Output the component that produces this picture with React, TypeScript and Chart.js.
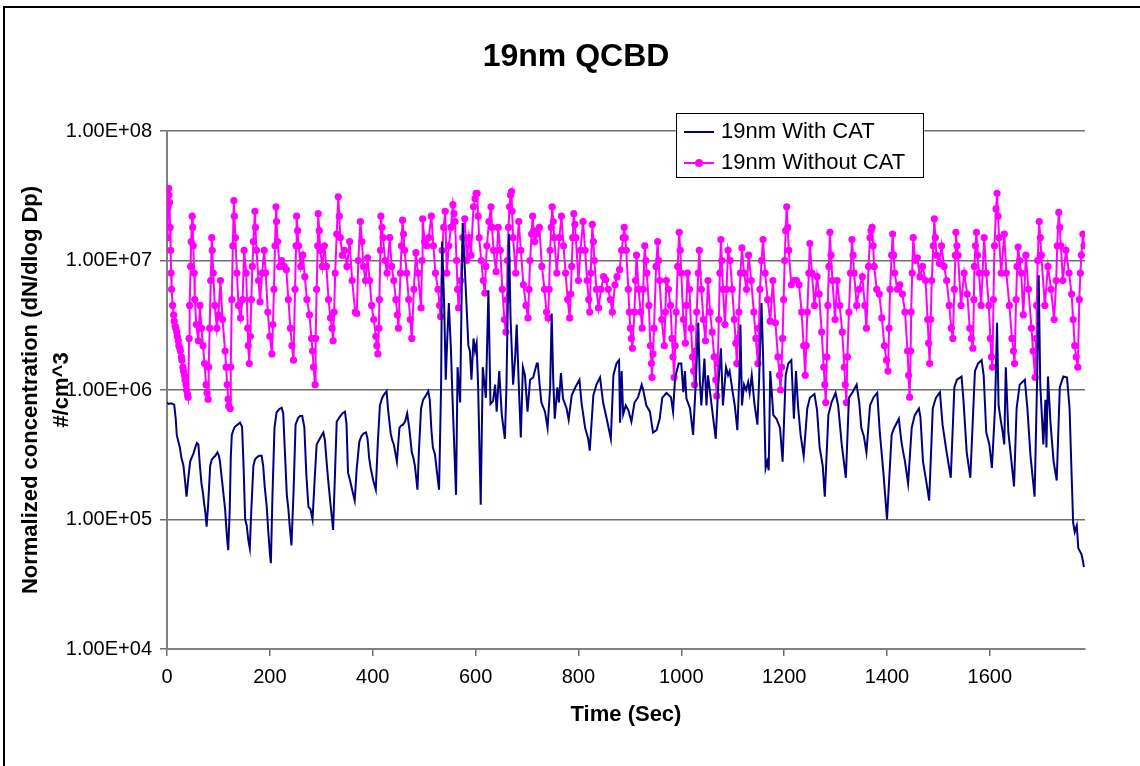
import React, { useEffect, useRef } from "react";
import Chart from "chart.js/auto";

const FONT = '"Liberation Sans", Arial, sans-serif';

const chartTitle = "19nm QCBD";
const xAxisTitle = "Time (Sec)";
const yAxisTitle = ["Normalized concentration (dN/dlog Dp)", "#/cm^3"];
const seriesNames = ["19nm With CAT", "19nm Without CAT"];

const xMin = 0;
const xMax = 1785;
const xTickValues = [0, 200, 400, 600, 800, 1000, 1200, 1400, 1600];
const xTickLabels = ["0", "200", "400", "600", "800", "1000", "1200", "1400", "1600"];

const yTickValues = [1e4, 1e5, 1e6, 1e7, 1e8];
const yTickLabels = ["1.00E+04", "1.00E+05", "1.00E+06", "1.00E+07", "1.00E+08"];

// [time (s), concentration]
const withCatPoints: Array<[number, number]> = [
  [0, 8.0e5], [3, 7.8e5], [8, 7.9e5], [14, 7.7e5], [17, 6e5], [19, 4.5e5], [22, 4.0e5], [25, 3.6e5], [28, 3.0e5], [32, 2.6e5],
  [35, 2.0e5], [38, 1.5e5], [41, 2.0e5], [45, 2.8e5], [48, 3.0e5], [51, 3.2e5], [55, 3.6e5], [58, 3.9e5], [61, 3.8e5], [64, 2.6e5],
  [67, 1.9e5], [70, 1.6e5], [72, 1.35e5], [75, 1.1e5], [77, 8.8e4], [80, 1.3e5], [84, 2.6e5], [87, 2.9e5], [90, 3.0e5], [94, 3.1e5],
  [98, 3.3e5], [101, 3.1e5], [103, 2.8e5], [107, 2.0e5], [110, 1.55e5], [113, 1.2e5], [115, 9e4], [117, 7e4], [119, 5.8e4], [122, 1.2e5],
  [124, 3.0e5], [126, 4.5e5], [129, 4.9e5], [132, 5.2e5], [137, 5.4e5], [142, 5.6e5], [146, 5.2e5], [149, 2.5e5], [152, 1.0e5], [155, 9e4],
  [158, 7e4], [161, 6.0e4], [164, 1.2e5], [168, 2.6e5], [171, 2.9e5], [174, 3.0e5], [179, 3.1e5], [184, 3.1e5], [187, 2.6e5], [190, 1.8e5],
  [194, 1.25e5], [197, 8e4], [200, 5.5e4], [202, 4.6e4], [205, 1.5e5], [209, 5.1e5], [213, 6.7e5], [218, 7.1e5], [223, 7.3e5], [226, 6.6e5],
  [229, 3.5e5], [233, 1.55e5], [236, 1.2e5], [239, 8.5e4], [242, 6.3e4], [246, 1.6e5], [250, 5.4e5], [255, 6.1e5], [259, 6.3e5], [263, 6.3e5],
  [267, 5.2e5], [271, 2.2e5], [275, 1.25e5], [279, 1.2e5], [283, 1.0e5], [287, 2.0e5], [291, 3.8e5], [297, 4.2e5], [301, 4.5e5], [304, 4.7e5],
  [307, 4.1e5], [311, 2.6e5], [314, 1.9e5], [318, 1.3e5], [321, 1.0e5], [323, 8.3e4], [327, 2.5e5], [330, 5.7e5], [336, 6.2e5], [341, 6.6e5],
  [346, 6.8e5], [349, 5.5e5], [352, 2.3e5], [356, 2.0e5], [360, 1.7e5], [365, 1.4e5], [369, 2.5e5], [374, 4.0e5], [378, 4.4e5], [382, 4.6e5],
  [387, 4.7e5], [390, 4.2e5], [393, 3.0e5], [396, 2.5e5], [401, 2.0e5], [406, 1.7e5], [410, 4.0e5], [414, 7.6e5], [418, 8.6e5], [421, 9.1e5],
  [427, 9.8e5], [430, 7.0e5], [435, 4.6e5], [438, 4.1e5], [441, 3.8e5], [447, 2.8e5], [452, 5.1e5], [455, 5.3e5], [459, 5.4e5], [463, 5.7e5],
  [467, 6.6e5], [471, 5.1e5], [476, 3.3e5], [479, 3.0e5], [482, 2.6e5], [487, 1.7e5], [490, 3.5e5], [494, 7.2e5], [498, 8.4e5], [503, 9.0e5],
  [508, 9.8e5], [511, 8.4e5], [514, 5e5], [517, 3.6e5], [521, 3.2e5], [525, 2.3e5], [529, 1.7e5], [533, 1.1e6], [535, 1.4e7], [539, 4.5e6],
  [542, 1.2e6], [545, 2.5e6], [548, 4.7e6], [552, 2.1e6], [555, 9e5], [558, 4.2e5], [562, 1.55e5], [565, 1.5e6], [570, 8.0e5], [572, 3e6],
  [575, 1.95e7], [579, 8.8e6], [583, 4e6], [586, 2.2e6], [589, 2.0e6], [592, 1.2e6], [596, 2.5e6], [599, 2.0e6], [602, 2.3e6], [605, 1.05e6],
  [610, 1.3e5], [614, 1.5e6], [620, 8.7e5], [625, 5.9e6], [629, 7.8e5], [634, 8.2e5], [638, 1.1e6], [641, 6.8e5], [646, 1.4e6], [651, 6.4e5],
  [657, 4.2e5], [660, 1.05e6], [665, 1.6e7], [668, 3.6e6], [673, 1.1e6], [677, 1.8e6], [680, 3.2e6], [684, 1.1e6], [688, 4.3e5], [692, 1.5e6],
  [696, 1.3e6], [701, 6.8e5], [706, 1.2e6], [712, 1.25e6], [719, 1.6e6], [721, 1.6e6], [725, 1.05e6], [728, 8e5], [735, 6.8e5], [740, 5.1e5],
  [745, 1.05e6], [748, 3.9e6], [751, 1.2e6], [754, 6e5], [759, 1.05e6], [762, 8e5], [766, 1.35e6], [770, 8.6e5], [777, 7.2e5], [781, 5.9e5],
  [787, 9.1e5], [794, 1.05e6], [802, 1.2e6], [806, 8e5], [813, 5.1e5], [819, 4.2e5], [822, 3.4e5], [829, 9.1e5], [835, 1.1e6], [842, 1.25e6],
  [848, 8e5], [855, 6e5], [863, 4.2e5], [868, 1.3e6], [874, 1.6e6], [879, 1.7e6], [881, 5.6e5], [884, 1.4e6], [887, 6.5e5], [892, 7.6e5],
  [897, 7e5], [903, 5.7e5], [909, 8e5], [916, 8.8e5], [923, 1.1e6], [926, 1.0e6], [932, 7.6e5], [939, 6.8e5], [945, 4.7e5], [952, 4.9e5],
  [958, 6e5], [963, 8.7e5], [971, 9.5e5], [980, 8.8e5], [984, 6.8e5], [988, 1.25e6], [995, 1.6e6], [1000, 1.6e6], [1004, 9.6e5], [1007, 1.4e6],
  [1010, 8.6e5], [1017, 7.2e5], [1023, 4.5e5], [1028, 1.1e6], [1033, 3.3e6], [1036, 1.2e6], [1039, 7.6e5], [1045, 1.75e6], [1049, 7.6e5], [1052, 1.3e6],
  [1059, 7.6e5], [1067, 4.2e5], [1072, 1.1e6], [1077, 2.1e6], [1081, 7.6e5], [1087, 1.5e6], [1091, 1.3e6], [1094, 1.4e6], [1100, 9.6e5], [1104, 7.6e5],
  [1109, 4.9e5], [1113, 1.3e6], [1115, 3.2e6], [1118, 7.6e5], [1122, 1.1e6], [1126, 1.0e6], [1130, 1.15e6], [1133, 9.5e5], [1137, 1.3e6], [1142, 8e5],
  [1148, 5.4e5], [1151, 1.1e6], [1156, 4.7e6], [1159, 1.85e6], [1164, 2.5e5], [1167, 2.8e5], [1170, 2.4e5], [1173, 1.4e6], [1179, 6.4e5], [1185, 6e5],
  [1192, 5.1e5], [1197, 2.8e5], [1203, 1.3e6], [1208, 1.6e6], [1214, 1.7e6], [1219, 6e5], [1223, 1.4e6], [1227, 7.5e5], [1232, 4.5e5], [1238, 3.1e5],
  [1245, 7.2e5], [1250, 8.7e5], [1259, 9.3e5], [1264, 7e5], [1269, 3.6e5], [1275, 2.6e5], [1279, 1.5e5], [1286, 6.4e5], [1292, 8e5], [1300, 9.5e5],
  [1305, 7.6e5], [1312, 3.8e5], [1320, 2.1e5], [1326, 8.7e5], [1333, 9.6e5], [1341, 1.1e6], [1346, 8e5], [1350, 5.1e5], [1355, 4.4e5], [1360, 3.3e5],
  [1367, 7.6e5], [1374, 8.8e5], [1381, 9.5e5], [1386, 4.7e5], [1393, 2.3e5], [1400, 1.0e5], [1409, 4.5e5], [1413, 5e5], [1423, 6e5], [1428, 4e5],
  [1431, 3.4e5], [1435, 2.8e5], [1441, 1.9e5], [1448, 5.1e5], [1454, 6.4e5], [1462, 7.2e5], [1465, 6.2e5], [1470, 2.8e5], [1477, 1.9e5], [1482, 1.4e5],
  [1489, 7.2e5], [1495, 8.7e5], [1503, 9.6e5], [1508, 5.4e5], [1516, 3.3e5], [1524, 2.1e5], [1531, 1.05e6], [1536, 1.2e6], [1545, 1.27e6], [1549, 8e5],
  [1555, 3.3e5], [1562, 2.1e5], [1571, 1.4e6], [1577, 1.6e6], [1584, 1.7e6], [1588, 1.3e6], [1593, 4.7e5], [1599, 3.8e5], [1604, 2.5e5], [1610, 7.2e5],
  [1614, 3.3e6], [1617, 7.6e5], [1621, 5.9e5], [1625, 4.7e5], [1628, 3.8e5], [1631, 1.5e6], [1636, 4.7e5], [1642, 2.8e5], [1647, 1.8e5], [1652, 7.2e5],
  [1658, 1.1e6], [1668, 1.2e6], [1673, 7.2e5], [1679, 3.1e5], [1687, 1.5e5], [1692, 1.25e6], [1695, 7.7e6], [1698, 1.1e6], [1704, 3.8e5], [1708, 8.4e5],
  [1710, 3.6e5], [1713, 1.27e6], [1718, 5.5e5], [1724, 2.8e5], [1730, 2.0e5], [1736, 1.05e6], [1743, 1.27e6], [1750, 1.25e6], [1755, 7.2e5], [1759, 2.2e5],
  [1762, 9.4e4], [1765, 8.0e4], [1767, 8.5e4], [1769, 9.0e4], [1772, 6e4], [1775, 5.7e4], [1778, 5.4e4], [1780, 5e4], [1783, 4.3e4],
];

// [time (s), concentration]
const withoutCatPoints: Array<[number, number]> = [
  [1, 1.5e7], [2, 2.6e7], [3, 3.6e7], [4, 3.2e7], [5, 2.8e7], [6, 1.8e7], [7, 1.2e7], [8, 8e6], [9, 6e6], [11, 4.5e6],
  [13, 3.8e6], [14, 3.4e6], [16, 3.1e6], [17, 3.0e6], [19, 2.8e6], [20, 2.6e6], [22, 2.4e6], [23, 2.2e6], [25, 2.1e6], [26, 2.0e6],
  [28, 1.8e6], [29, 1.7e6], [31, 1.5e6], [32, 1.4e6], [34, 1.3e6], [35, 1.2e6], [37, 1.1e6], [38, 1.0e6], [40, 9.2e5], [41, 8.8e5],
  [43, 2.5e6], [44, 4.5e6], [46, 9e6], [47, 1.4e7], [49, 2.2e7], [50, 1.8e7], [51, 1.3e7], [53, 8e6], [54, 5e6], [57, 3.2e6],
  [61, 2.4e6], [64, 4.5e6], [67, 3e6], [70, 2.2e6], [73, 1.6e6], [76, 1.1e6], [78, 9.5e5], [80, 8.5e5], [81, 1.5e6], [83, 3e6],
  [85, 7e6], [87, 1.5e7], [88, 1.2e7], [90, 8e6], [93, 4.5e6], [97, 3e6], [100, 3.8e6], [104, 7e6], [108, 3.5e6], [113, 2e6],
  [115, 1.5e6], [117, 1.1e6], [119, 8.5e5], [120, 7.5e5], [123, 7.2e5], [124, 1.5e6], [126, 5e6], [128, 1.3e7], [130, 2.9e7], [131, 2.2e7],
  [133, 1.5e7], [136, 8e6], [139, 4.5e6], [143, 3.6e6], [147, 5e6], [150, 1.2e7], [154, 8e6], [157, 3e6], [158, 2.2e6], [160, 1.6e6],
  [162, 2.6e6], [164, 5e6], [166, 9e6], [168, 1.4e7], [171, 2.4e7], [172, 1.8e7], [174, 1.2e7], [178, 7e6], [181, 4.8e6], [185, 8e6],
  [189, 1.2e7], [192, 8e6], [196, 4e6], [200, 2.6e6], [204, 1.9e6], [206, 3.2e6], [208, 6e6], [210, 1.3e7], [212, 2.6e7], [213, 2.0e7],
  [215, 1.4e7], [219, 9e6], [223, 1.0e7], [228, 9e6], [232, 8.5e6], [236, 5e6], [240, 3e6], [243, 2.2e6], [246, 1.7e6], [249, 6e6],
  [251, 1.3e7], [252, 2.2e7], [254, 1.7e7], [256, 1.3e7], [260, 9e6], [264, 1.1e7], [268, 7.5e6], [272, 5e6], [277, 3.8e6], [281, 2.5e6],
  [283, 2.0e6], [285, 1.5e6], [288, 1.1e6], [289, 2.5e6], [291, 6e6], [293, 1.3e7], [294, 2.3e7], [296, 1.7e7], [298, 1.2e7], [302, 9e6],
  [306, 1.3e7], [310, 9e6], [314, 5e6], [318, 3.6e6], [321, 3e6], [323, 2.4e6], [325, 4e6], [327, 8e6], [330, 1.6e7], [333, 3.1e7],
  [335, 2.2e7], [337, 1.5e7], [341, 1.1e7], [345, 1.2e7], [350, 9e6], [355, 1.4e7], [360, 7e6], [366, 4e6], [369, 3.9e6], [372, 1.0e7],
  [376, 2.0e7], [379, 1.4e7], [382, 9e6], [386, 7e6], [390, 1.05e7], [394, 7e6], [398, 4.5e6], [402, 3.5e6], [406, 2.6e6], [408, 2.2e6],
  [410, 1.9e6], [412, 3e6], [413, 5e6], [415, 1.2e7], [416, 2.2e7], [418, 1.8e7], [420, 1.5e7], [424, 1.0e7], [428, 8e6], [433, 1.5e7],
  [437, 9e6], [441, 7e6], [445, 5e6], [448, 3.8e6], [450, 3e6], [454, 8e6], [456, 1.3e7], [458, 2.05e7], [460, 1.6e7], [462, 1.2e7],
  [466, 8e6], [470, 5e6], [473, 3.5e6], [476, 2.5e6], [480, 6e6], [484, 1.15e7], [488, 8e6], [494, 4.3e6], [496, 1.0e7], [497, 2.1e7],
  [501, 1.4e7], [505, 1.3e7], [509, 1.5e7], [514, 2.2e7], [518, 1.3e7], [522, 8e6], [527, 6e6], [530, 4.5e6], [532, 3.7e6], [535, 1.2e7],
  [538, 1.8e7], [541, 2.4e7], [544, 8e6], [548, 1.3e7], [552, 1.8e7], [556, 2.7e7], [558, 2.3e7], [560, 2.0e7], [563, 1.0e7], [565, 6e6],
  [567, 4.3e6], [571, 7e6], [575, 1.5e7], [579, 2.1e7], [583, 1.0e7], [587, 1.5e7], [591, 1.1e7], [596, 2.6e7], [599, 3.0e7], [601, 3.3e7],
  [603, 3.3e7], [605, 2.2e7], [607, 1.5e7], [611, 1.0e7], [615, 7e6], [618, 5.6e6], [620, 9e6], [622, 1.3e7], [626, 2.0e7], [630, 2.6e7],
  [632, 1.8e7], [635, 1.2e7], [640, 8.2e6], [644, 1.8e7], [648, 1.2e7], [652, 6e6], [656, 3.5e6], [659, 2.8e6], [661, 5e6], [662, 1.0e7],
  [664, 1.8e7], [666, 2.6e7], [668, 3.2e7], [670, 3.4e7], [671, 2.4e7], [673, 1.5e7], [678, 8e6], [684, 2.0e7], [688, 1.2e7], [693, 6.5e6],
  [698, 4.5e6], [702, 3.6e6], [704, 6e6], [706, 1.0e7], [709, 1.6e7], [711, 2.2e7], [713, 1.7e7], [715, 1.4e7], [719, 1.6e7], [724, 1.8e7],
  [729, 9e6], [734, 6e6], [738, 4e6], [741, 3.6e6], [743, 6e6], [745, 1.2e7], [747, 1.8e7], [749, 2.6e7], [751, 2.0e7], [753, 1.5e7],
  [758, 8e6], [763, 1.5e7], [767, 2.2e7], [771, 1.3e7], [775, 8e6], [779, 5e6], [783, 3.6e6], [785, 5.5e6], [787, 9e6], [789, 1.5e7],
  [791, 2.3e7], [793, 1.9e7], [795, 1.5e7], [800, 7e6], [804, 1.2e7], [809, 2.0e7], [813, 1.2e7], [817, 7e6], [820, 5e6], [822, 4e6],
  [824, 8e6], [827, 1.9e7], [829, 1.4e7], [831, 1.0e7], [835, 6e6], [839, 4.3e6], [844, 6e6], [849, 7.5e6], [853, 7.1e6], [858, 6e6],
  [862, 5e6], [866, 4e6], [871, 6.5e6], [875, 7.5e6], [880, 8.5e6], [884, 1.2e7], [887, 1.5e7], [889, 1.8e7], [891, 1.5e7], [893, 1.2e7],
  [897, 6e6], [899, 4e6], [901, 3e6], [903, 2.5e6], [905, 2.1e6], [909, 4e6], [911, 7e6], [913, 1.1e7], [917, 6e6], [921, 4e6],
  [924, 3e6], [926, 6e6], [929, 1.3e7], [931, 1.0e7], [933, 8e6], [937, 4.5e6], [940, 2.2e6], [942, 1.6e6], [943, 1.25e6], [945, 1.9e6],
  [947, 3e6], [951, 9e6], [954, 1.4e7], [956, 1.0e7], [958, 7e6], [962, 3.5e6], [967, 2.2e6], [969, 4e6], [971, 7e6], [975, 6e6],
  [979, 4.5e6], [982, 2.5e6], [984, 1.8e6], [986, 1.25e6], [988, 2.2e6], [990, 4e6], [993, 9e6], [996, 1.65e7], [998, 1.2e7], [1000, 8e6],
  [1004, 3.5e6], [1008, 2.3e6], [1010, 4.5e6], [1012, 8e6], [1016, 6e6], [1019, 3e6], [1022, 1.8e6], [1024, 1.4e6], [1026, 1.1e6], [1028, 2e6],
  [1030, 4e6], [1033, 8e6], [1035, 1.2e7], [1039, 6e6], [1043, 3.5e6], [1047, 2.4e6], [1052, 7e6], [1056, 4e6], [1060, 2.8e6], [1064, 1.8e6],
  [1067, 1.2e6], [1069, 9e5], [1071, 1.6e6], [1073, 3.5e6], [1075, 8e6], [1077, 1.45e7], [1079, 1.0e7], [1081, 6e6], [1085, 3.2e6], [1088, 6e6],
  [1091, 1.2e7], [1095, 1.0e7], [1099, 6e6], [1103, 3.5e6], [1106, 2.3e6], [1108, 1.6e6], [1110, 2.5e6], [1112, 4e6], [1115, 8e6], [1118, 1.25e7],
  [1122, 8e6], [1127, 6e6], [1131, 1.1e7], [1136, 7e6], [1141, 4e6], [1145, 2.5e6], [1149, 1.6e6], [1151, 3e6], [1153, 6e6], [1156, 1.0e7],
  [1159, 1.45e7], [1163, 8e6], [1168, 5e6], [1173, 3.4e6], [1178, 7e6], [1183, 3.3e6], [1188, 1.8e6], [1191, 1.3e6], [1193, 1.0e6], [1195, 1.5e6],
  [1197, 2.5e6], [1199, 5e6], [1201, 1.0e7], [1203, 1.7e7], [1205, 2.6e7], [1207, 1.8e7], [1209, 1.2e7], [1214, 6.5e6], [1219, 7e6], [1224, 7e6],
  [1229, 6.5e6], [1234, 4e6], [1238, 2.2e6], [1241, 1.3e6], [1243, 2.2e6], [1245, 4e6], [1248, 8e6], [1250, 1.35e7], [1254, 8e6], [1259, 4.5e6],
  [1264, 7.5e6], [1268, 5.5e6], [1273, 2.8e6], [1277, 1.5e6], [1279, 1.1e6], [1281, 8e5], [1283, 1.8e6], [1285, 4.5e6], [1287, 9e6], [1289, 1.65e7],
  [1291, 1.1e7], [1294, 7e6], [1299, 3.5e6], [1303, 7e6], [1308, 4.5e6], [1313, 2.8e6], [1317, 1.5e6], [1319, 1.1e6], [1321, 8e5], [1323, 1.8e6],
  [1326, 4e6], [1329, 8e6], [1332, 1.45e7], [1334, 1.1e7], [1336, 8e6], [1341, 4.5e6], [1346, 6e6], [1352, 7.5e6], [1357, 4.5e6], [1360, 3e6],
  [1364, 9e6], [1367, 1.5e7], [1369, 1.7e7], [1371, 1.8e7], [1373, 1.3e7], [1375, 9e6], [1380, 6e6], [1385, 5.5e6], [1390, 3.6e6], [1395, 2.2e6],
  [1399, 1.7e6], [1402, 1.4e6], [1404, 3e6], [1406, 6e6], [1409, 1.1e7], [1411, 1.6e7], [1413, 1.1e7], [1415, 8e6], [1420, 6e6], [1425, 6.5e6],
  [1430, 5.5e6], [1435, 4e6], [1440, 2e6], [1442, 1.3e6], [1444, 8.8e5], [1446, 2e6], [1447, 4e6], [1449, 8e6], [1451, 1.5e7], [1455, 1.0e7],
  [1459, 1.05e7], [1464, 7.5e6], [1469, 9e6], [1475, 7e6], [1479, 3.5e6], [1481, 2.3e6], [1483, 1.6e6], [1485, 3.5e6], [1487, 7e6], [1490, 1.3e7],
  [1492, 2.1e7], [1494, 1.5e7], [1496, 1.1e7], [1502, 9.5e6], [1506, 1.3e7], [1511, 9e6], [1516, 7e6], [1521, 4.5e6], [1525, 3e6], [1528, 2.5e6],
  [1531, 6e6], [1533, 1.1e7], [1534, 1.65e7], [1536, 1.3e7], [1538, 1.1e7], [1544, 4.5e6], [1550, 8e6], [1556, 5.5e6], [1561, 3e6], [1564, 2.5e6],
  [1567, 2.1e6], [1569, 5e6], [1570, 9e6], [1572, 1.3e7], [1574, 1.65e7], [1576, 1.1e7], [1579, 8e6], [1583, 4.5e6], [1589, 1.5e7], [1593, 8e6],
  [1598, 4.5e6], [1601, 2.5e6], [1603, 1.8e6], [1605, 1.5e6], [1607, 5e6], [1609, 1.3e7], [1612, 2.5e7], [1614, 3.3e7], [1616, 2.2e7], [1618, 1.5e7],
  [1622, 8e6], [1628, 1.6e7], [1632, 8e6], [1638, 4.5e6], [1643, 2.5e6], [1646, 2e6], [1648, 1.6e6], [1651, 5e6], [1653, 9e6], [1655, 1.27e7],
  [1658, 1.0e7], [1661, 8e6], [1665, 3.8e6], [1670, 1.1e7], [1675, 6e6], [1681, 3e6], [1684, 2e6], [1688, 1.25e6], [1690, 2.5e6], [1691, 4.5e6],
  [1693, 1.0e7], [1696, 2.0e7], [1698, 1.5e7], [1700, 1.1e7], [1707, 4.5e6], [1713, 9e6], [1719, 6e6], [1725, 3.5e6], [1729, 7e6], [1731, 1.3e7],
  [1734, 2.35e7], [1736, 1.8e7], [1738, 1.3e7], [1742, 7e6], [1748, 1.2e7], [1754, 8e6], [1759, 5.5e6], [1762, 3.5e6], [1765, 2.2e6], [1768, 1.8e6],
  [1771, 1.5e6], [1774, 5e6], [1776, 8e6], [1778, 1.1e7], [1781, 1.6e7], [1783, 1.3e7],
];

const NAVY = "#000080";
const MAGENTA = "#FF00FF";

export default function App() {
  const canvasRef = useRef<HTMLCanvasElement | null>(null);

  useEffect(() => {
    document.body.style.margin = "0";
    document.body.style.overflow = "hidden";
    const canvas = canvasRef.current;
    if (!canvas) return;
    const chart = new Chart(canvas, {
      type: "line",
      data: {
        datasets: [
          {
            label: seriesNames[0],
            data: withCatPoints.map(([t, v]) => ({ x: t, y: v })),
            borderColor: NAVY,
            backgroundColor: NAVY,
            borderWidth: 2,
            pointRadius: 0,
            tension: 0,
          },
          {
            label: seriesNames[1],
            data: withoutCatPoints.map(([t, v]) => ({ x: t, y: v })),
            borderColor: MAGENTA,
            backgroundColor: MAGENTA,
            borderWidth: 2,
            pointRadius: 3.6,
            pointBorderWidth: 0,
            pointBackgroundColor: MAGENTA,
            tension: 0,
          },
        ],
      },
      options: {
        animation: false,
        responsive: false,
        devicePixelRatio: 1,
        layout: { padding: { left: 0, right: 55, top: 131, bottom: 0 } },
        plugins: {
          legend: { display: false },
          tooltip: { enabled: false },
          title: { display: false },
        },
        scales: {
          x: {
            type: "linear",
            min: xMin,
            max: xMax,
            afterFit: (s: any) => {
              s.height = 117;
            },
            afterBuildTicks: (s: any) => {
              s.ticks = xTickValues.map((v) => ({ value: v }));
            },
            ticks: {
              autoSkip: false,
              maxRotation: 0,
              color: "#000",
              padding: 9,
              font: { family: FONT, size: 20 },
              callback: (_v: any, i: number) => xTickLabels[i],
            },
            grid: {
              drawOnChartArea: false,
              drawTicks: true,
              tickLength: 7,
              color: "#6e6e6e",
              lineWidth: 1.5,
            },
            border: { color: "#808080", width: 2 },
            title: {
              display: true,
              text: xAxisTitle,
              color: "#000",
              font: { family: FONT, size: 22, weight: "bold", lineHeight: 1.2 },
              padding: { top: 0, bottom: 38 },
            },
          },
          y: {
            type: "logarithmic",
            min: yTickValues[0],
            max: yTickValues[yTickValues.length - 1],
            afterFit: (s: any) => {
              s.width = 167;
            },
            afterBuildTicks: (s: any) => {
              s.ticks = yTickValues.map((v) => ({ value: v }));
            },
            ticks: {
              color: "#000",
              padding: 8,
              font: { family: FONT, size: 20 },
              callback: (_v: any, i: number) => yTickLabels[i],
            },
            grid: {
              color: "#6e6e6e",
              lineWidth: 1.5,
              tickLength: 7,
            },
            border: { color: "#808080", width: 2 },
            title: {
              display: true,
              text: yAxisTitle,
              color: "#000",
              font: { family: FONT, size: 22, weight: "bold", lineHeight: 1.4 },
              padding: { top: 16, bottom: 0 },
            },
          },
        },
      } as any,
    });
    return () => chart.destroy();
  }, []);

  const legendText: React.CSSProperties = {
    position: "absolute",
    left: 44,
    height: 26,
    lineHeight: "26px",
    fontFamily: FONT,
    fontSize: 22,
    color: "#000",
    whiteSpace: "nowrap",
  };

  return (
    <div style={{ position: "relative", width: 1140, height: 766, overflow: "hidden", background: "#fff" }}>
      <canvas ref={canvasRef} width={1140} height={766} style={{ display: "block", width: 1140, height: 766 }} />
      <div
        style={{
          position: "absolute",
          left: 376,
          top: 34,
          width: 400,
          height: 42,
          lineHeight: "42px",
          textAlign: "center",
          fontFamily: FONT,
          fontWeight: "bold",
          fontSize: 32,
          color: "#000",
          whiteSpace: "nowrap",
        }}
      >
        {chartTitle}
      </div>
      <div
        style={{
          position: "absolute",
          left: 3,
          top: 6,
          width: 1300,
          height: 1000,
          border: "2px solid #000",
          pointerEvents: "none",
        }}
      />
      <div
        style={{
          position: "absolute",
          left: 676,
          top: 113,
          width: 248,
          height: 65,
          boxSizing: "border-box",
          border: "1px solid #000",
          background: "#fff",
        }}
      >
        <div style={{ position: "absolute", left: 7, top: 17, width: 30, height: 2, background: NAVY }} />
        <div style={{ ...legendText, top: 4 }}>{seriesNames[0]}</div>
        <div style={{ position: "absolute", left: 7, top: 48, width: 30, height: 1.5, background: MAGENTA }} />
        <div
          style={{
            position: "absolute",
            left: 18,
            top: 44.5,
            width: 8,
            height: 8,
            borderRadius: "50%",
            background: MAGENTA,
          }}
        />
        <div style={{ ...legendText, top: 35 }}>{seriesNames[1]}</div>
      </div>
    </div>
  );
}
